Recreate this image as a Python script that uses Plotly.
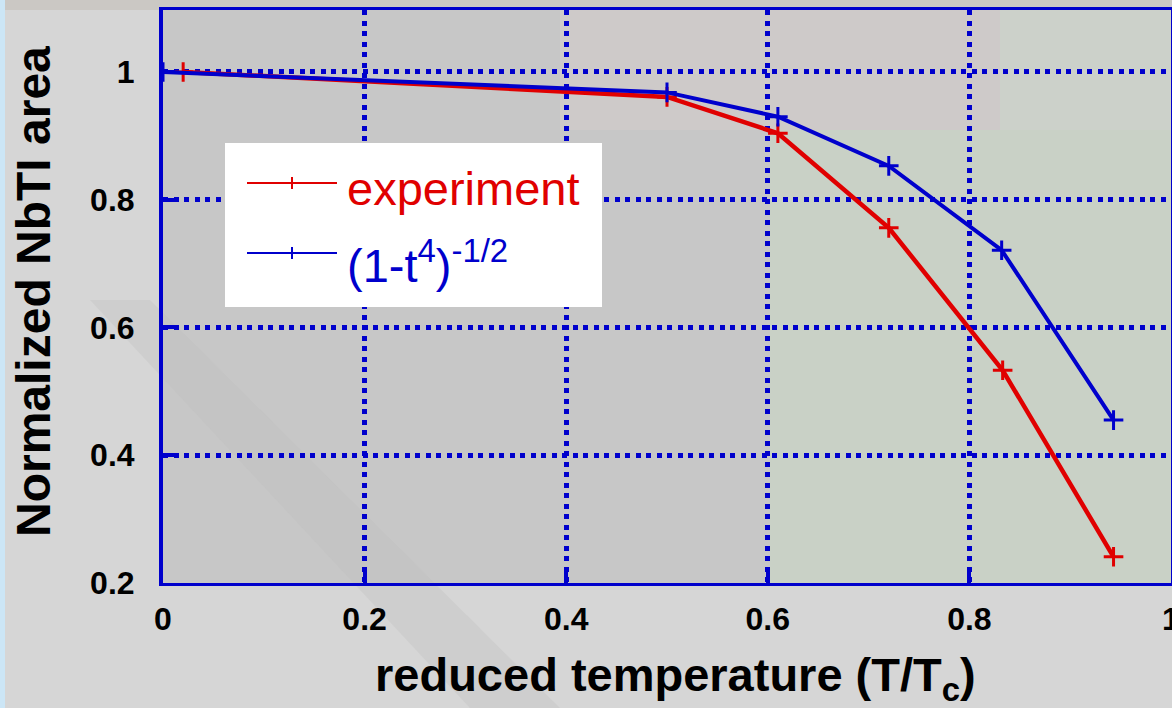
import plotly.graph_objects as go

# Reduced temperature t = T/Tc
t_experiment = [0.02, 0.5, 0.61, 0.72, 0.833, 0.943]
t_model = [0.0, 0.5, 0.61, 0.72, 0.832, 0.943]

# Normalized NbTi cross-section area
area_experiment = [1.0, 0.961, 0.904, 0.756, 0.533, 0.241]
area_model = [1.0, 0.968, 0.930, 0.853, 0.721, 0.455]

x_ticks = [0, 0.2, 0.4, 0.6, 0.8, 1]
y_ticks = [0.2, 0.4, 0.6, 0.8, 1]

RED = "#e00000"
BLUE = "#0000cc"
FONT = "Liberation Sans, Arial, Helvetica, sans-serif"

W, H = 1172, 708
L, R, T, B = 163, 1, 10, 125
PW, PH = W - L - R, H - T - B


def px(xp):
    return (xp - L) / PW


def py(yp):
    return (H - B - yp) / PH


fig = go.Figure()

fig.add_trace(go.Scatter(
    x=t_experiment, y=area_experiment, mode="lines+markers",
    line=dict(color=RED, width=4.5),
    marker=dict(symbol="cross-thin", size=14, line=dict(color=RED, width=3)),
    showlegend=False,
))
fig.add_trace(go.Scatter(
    x=t_model, y=area_model, mode="lines+markers",
    line=dict(color=BLUE, width=4),
    marker=dict(symbol="cross-thin", size=14, line=dict(color=BLUE, width=3)),
    showlegend=False,
))

shapes = []


def bg_rect(x0, y0, x1, y1, color, opacity=1.0):
    shapes.append(dict(type="rect", xref="paper", yref="paper",
                       x0=px(x0), x1=px(x1), y0=py(y0), y1=py(y1),
                       fillcolor=color, opacity=opacity, line=dict(width=0),
                       layer="below"))


# slide backdrop
bg_rect(0, 0, W, H, "#d6d6d6")
bg_rect(L, T, W, H - B, "#c7c7c7")
bg_rect(560, 0, 1000, 130, "#d6cfcc", 0.45)
bg_rect(770, 130, W, H - B, "#c9d1c6")
bg_rect(1000, 0, W, 130, "#cdd3ca", 0.8)
bg_rect(0, 0, W, T, "#cbc8c4")
bg_rect(0, 0, 5, H, "#cce6f6")
# soft diagonal shading in the lower left
shapes.append(dict(type="path", xref="paper", yref="paper", layer="below",
                   path=("M {},{} L {},{} L {},{} L {},{} Z".format(
                       px(90), py(300), px(150), py(300), px(560), py(708), px(470), py(708))),
                   fillcolor="#bdbdbd", opacity=0.3, line=dict(width=0)))

# legend box
shapes.append(dict(type="rect", xref="paper", yref="paper",
                   x0=px(225), x1=px(602), y0=py(143), y1=py(307),
                   fillcolor="white", line=dict(width=0), layer="above"))
for yl, col in [(183, RED), (253, BLUE)]:
    shapes.append(dict(type="line", xref="paper", yref="paper",
                       x0=px(247), x1=px(337), y0=py(yl), y1=py(yl),
                       line=dict(color=col, width=2), layer="above"))
    shapes.append(dict(type="line", xref="paper", yref="paper",
                       x0=px(292), x1=px(292), y0=py(yl - 6), y1=py(yl + 6),
                       line=dict(color=col, width=2), layer="above"))

annotations = [
    dict(text="experiment", xref="paper", yref="paper",
         x=px(345), y=py(188), xanchor="left", yanchor="middle",
         showarrow=False, font=dict(family=FONT, size=47, color=RED)),
    dict(text="(1-t<sup>4</sup>)<sup>-1/2</sup>", xref="paper", yref="paper",
         x=px(345), y=py(262), xanchor="left", yanchor="middle",
         showarrow=False, font=dict(family=FONT, size=47, color=BLUE)),
    dict(text="<b>reduced temperature (T/T<sub>c</sub>)</b>", xref="paper", yref="paper",
         x=px(675), y=py(678), xanchor="center", yanchor="middle",
         showarrow=False, font=dict(family=FONT, size=47, color="black")),
    dict(text="<b>Normalized NbTI area</b>", xref="paper", yref="paper",
         x=px(33), y=py(292), xanchor="center", yanchor="middle", textangle=-90,
         showarrow=False, font=dict(family=FONT, size=48, color="black")),
]

fig.update_layout(
    width=W, height=H,
    margin=dict(l=L, r=R, t=T, b=B, pad=0, autoexpand=False),
    paper_bgcolor="#d6d6d6",
    plot_bgcolor="rgba(0,0,0,0)",
    shapes=shapes,
    annotations=annotations,
    showlegend=False,
)

fig.update_xaxes(
    range=[0, 1], tickvals=x_ticks, ticktext=[f"{v:g}" for v in x_ticks],
    showgrid=True, gridcolor=BLUE, gridwidth=4.5, griddash="5px,5.5px",
    showline=True, linecolor=BLUE, linewidth=3, mirror=True,
    ticks="inside", ticklen=12, tickwidth=4, tickcolor=BLUE,
    tickfont=dict(family=FONT, size=32, color="black", weight="bold"),
    ticklabelstandoff=6, ticklabeloverflow="allow", zeroline=False,
    automargin=False,
)
fig.update_yaxes(
    range=[0.2, 1.097], tickvals=y_ticks, ticktext=[f"{v:g}" for v in y_ticks],
    showgrid=True, gridcolor=BLUE, gridwidth=4.5, griddash="5px,5.5px",
    showline=True, linecolor=BLUE, linewidth=4, mirror=True,
    ticks="inside", ticklen=12, tickwidth=4, tickcolor=BLUE,
    tickfont=dict(family=FONT, size=32, color="black", weight="bold"),
    ticklabelstandoff=18, zeroline=False,
    automargin=False,
)

fig.write_html("out.html")
